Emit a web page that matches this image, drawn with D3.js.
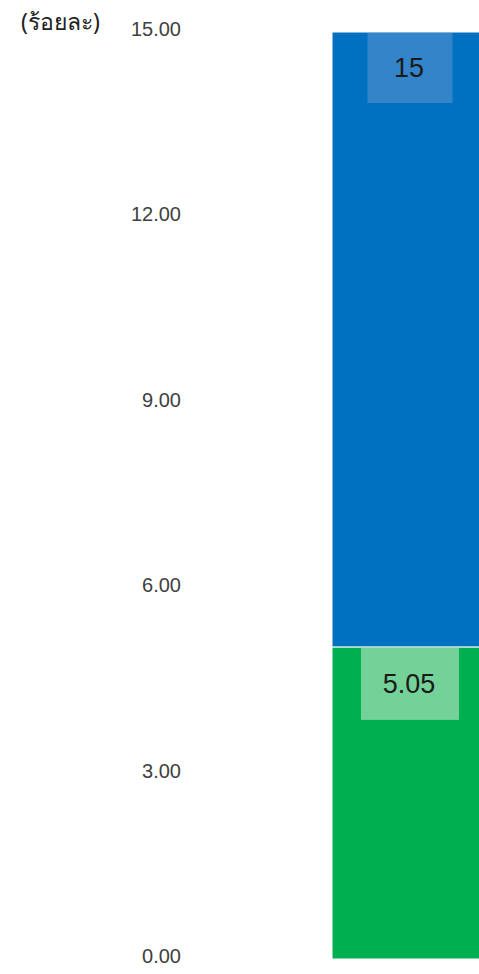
<!DOCTYPE html>
<html>
<head>
<meta charset="utf-8">
<script src="https://cdn.jsdelivr.net/npm/d3@7"></script>
<style>
  body { margin: 0; background: #fff; overflow: hidden; }
  svg { display: block; }
</style>
</head>
<body>
<svg id="chart" width="479" height="974"></svg>
<script>
// data
var categories = ["2566"];
var seriesNames = ["ส่วนที่ 1", "ส่วนที่ 2"];
var seriesValues = [[5.05], [15 - 5.05]];
var labelValues = [["5.05"], ["15"]];
var tickValues = [0, 3, 6, 9, 12, 15];
var colors = ["#00B050", "#0070C0"];
var boxColors = ["#74D197", "#3384C9"];

var svg = d3.select("#chart");
var yScale = d3.scaleLinear().domain([0, 15]).range([959, 32]);
var xScale = d3.scaleBand().domain(categories).range([332, 488]).padding(0);

// axis labels
var axis = svg.append("g")
  .attr("transform", "translate(181,0)")
  .call(d3.axisLeft(yScale).tickValues(tickValues).tickSize(0).tickPadding(0)
    .tickFormat(function(d) { return d3.format(".2f")(d); }));
axis.select(".domain").remove();
axis.selectAll("text")
  .attr("font-family", "Liberation Sans, Arial, sans-serif")
  .attr("font-size", "20px")
  .attr("fill", "#404040")
  .attr("dy", "0.32em")
  .attr("y", -3);

svg.append("text")
  .attr("x", 21)
  .attr("y", 30)
  .attr("font-family", "Noto Sans, DejaVu Sans, sans-serif")
  .attr("font-size", "23px")
  .attr("font-weight", "normal")
  .attr("fill", "#222")
  .text("(ร้อยละ)");

// stacked bars
var base = 0;
var stacks = seriesValues.map(function(vals, i) {
  var v = vals[0];
  var s = { i: i, y0: base, y1: base + v, label: labelValues[i][0] };
  base += v;
  return s;
});

var g = svg.append("g");
g.selectAll("rect.bar")
  .data(stacks)
  .enter().append("rect")
  .attr("class", "bar")
  .attr("x", xScale(categories[0]))
  .attr("width", xScale.bandwidth())
  .attr("y", function(d) { return yScale(d.y1); })
  .attr("height", function(d) { return yScale(d.y0) - yScale(d.y1); })
  .attr("fill", function(d) { return colors[d.i]; })
  .attr("stroke", "#fff")
  .attr("stroke-width", 1);

// data label boxes
var boxW = [98, 85], boxH = [72, 70];
var cx = xScale(categories[0]) + xScale.bandwidth() / 2;
g.selectAll("rect.lab")
  .data(stacks)
  .enter().append("rect")
  .attr("class", "lab")
  .attr("x", function(d) { return cx - boxW[d.i] / 2; })
  .attr("y", function(d) { return yScale(d.y1) + 1; })
  .attr("width", function(d) { return boxW[d.i]; })
  .attr("height", function(d) { return boxH[d.i]; })
  .attr("fill", function(d) { return boxColors[d.i]; });

g.selectAll("text.lab")
  .data(stacks)
  .enter().append("text")
  .attr("class", "lab")
  .attr("x", cx - 1)
  .attr("y", function(d) { return yScale(d.y1) + 1 + boxH[d.i] / 2; })
  .attr("dy", "0.35em")
  .attr("text-anchor", "middle")
  .attr("font-family", "Liberation Sans, Arial, sans-serif")
  .attr("font-size", "27px")
  .attr("fill", "#1a1a1a")
  .text(function(d) { return d.label; });
</script>
</body>
</html>
